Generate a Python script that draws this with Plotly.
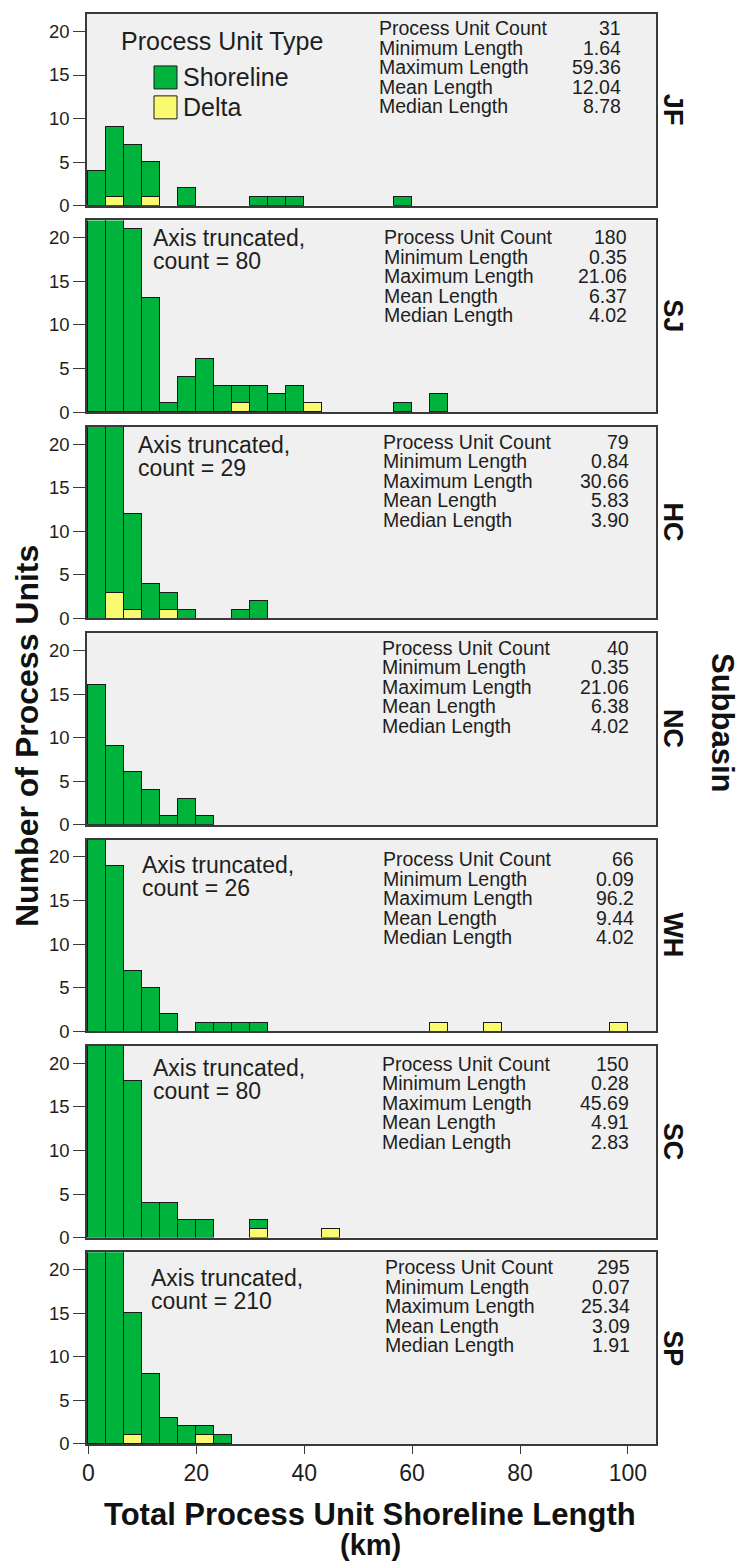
import plotly.graph_objects as go

# ---------------- data ----------------
bin_width_km = 10 / 3
n_bins = 30
subbasins = ["JF", "SJ", "HC", "NC", "WH", "SC", "SP"]

# total count per 3.33 km bin (bins starting at 0 km), delta count per bin
jf_total = [4, 9, 7, 5, 0, 2, 0, 0, 0, 1, 1, 1, 0, 0, 0, 0, 0, 1]
jf_delta = [0, 1, 0, 1]
sj_total = [37, 80, 21, 13, 1, 4, 6, 3, 3, 3, 2, 3, 1, 0, 0, 0, 0, 1, 0, 2]
sj_delta = [0, 0, 0, 0, 0, 0, 0, 0, 1, 0, 0, 0, 1]
hc_total = [29, 27, 12, 4, 3, 1, 0, 0, 1, 2]
hc_delta = [0, 3, 1, 0, 1]
nc_total = [16, 9, 6, 4, 1, 3, 1]
nc_delta = [0]
wh_total = [26, 19, 7, 5, 2, 0, 1, 1, 1, 1, 0, 0, 0, 0, 0, 0, 0, 0, 0, 1, 0, 0, 1, 0, 0, 0, 0, 0, 0, 1]
wh_delta = [0, 0, 0, 0, 0, 0, 0, 0, 0, 0, 0, 0, 0, 0, 0, 0, 0, 0, 0, 1, 0, 0, 1, 0, 0, 0, 0, 0, 0, 1]
sc_total = [80, 37, 18, 4, 4, 2, 2, 0, 0, 2, 0, 0, 0, 1]
sc_delta = [0, 0, 0, 0, 0, 0, 0, 0, 0, 1, 0, 0, 0, 1]
sp_total = [210, 54, 15, 8, 3, 2, 2, 1]
sp_delta = [0, 0, 1, 0, 0, 0, 1]

stat_labels = ["Process Unit Count", "Minimum Length", "Maximum Length", "Mean Length", "Median Length"]
jf_stats = ["31", "1.64", "59.36", "12.04", "8.78"]
sj_stats = ["180", "0.35", "21.06", "6.37", "4.02"]
hc_stats = ["79", "0.84", "30.66", "5.83", "3.90"]
nc_stats = ["40", "0.35", "21.06", "6.38", "4.02"]
wh_stats = ["66", "0.09", "96.2", "9.44", "4.02"]
sc_stats = ["150", "0.28", "45.69", "4.91", "2.83"]
sp_stats = ["295", "0.07", "25.34", "3.09", "1.91"]

truncated_counts = [None, 80, 29, None, 26, 80, 210]
x_ticks = [0, 20, 40, 60, 80, 100]
y_ticks = [0, 5, 10, 15, 20]

totals = [jf_total, sj_total, hc_total, nc_total, wh_total, sc_total, sp_total]
deltas = [jf_delta, sj_delta, hc_delta, nc_delta, wh_delta, sc_delta, sp_delta]
stats = [jf_stats, sj_stats, hc_stats, nc_stats, wh_stats, sc_stats, sp_stats]

# ---------------- layout geometry / style ----------------
W, H = 739, 1564
ML, MR, MT, MB = 87, 83, 12, 120
PW = W - ML - MR
PH = H - MT - MB
PANEL_H = 192
PITCH = (PH - PANEL_H) / 6

GREEN = "#00b33c"
YELLOW = "#fafa70"
EDGE = "#1a1a1a"
FRAME = "#3a3a3a"
TXT = "#1e1e1e"
FONT = "Liberation Sans, Arial, sans-serif"

# per-panel text placement (px): stats label x, stats value right x, first-line offset
stats_pos = [(377, 623, 14.5), (382, 629, 17), (381, 631, 15), (380, 631, 14.5),
             (381, 636, 20), (380, 631, 18), (383, 632, 15)]
trunc_pos = [None, (151, 18), (136, 18), None, (140, 26), (151, 22), (149, 26)]

def pad(a):
    return list(a) + [0] * (n_bins - len(a))

fig = go.Figure()
annotations = []
shapes = []

for i, name in enumerate(subbasins):
    top = MT + i * PITCH
    bottom = top + PANEL_H
    d0 = 1 - (bottom - MT) / PH
    d1 = 1 - (top - MT) / PH
    ax = "" if i == 0 else str(i + 1)

    tot = pad(totals[i])
    dl = pad(deltas[i])
    centers = [(b + 0.5) * bin_width_km for b in range(n_bins)]
    dx = [c for c, v in zip(centers, dl) if v > 0]
    dy = [v for v in dl if v > 0]
    sx = [c for c, t, v in zip(centers, tot, dl) if t - v > 0]
    sy = [t - v for t, v in zip(tot, dl) if t - v > 0]

    fig.add_trace(go.Bar(x=dx, y=dy, width=bin_width_km, name="Delta",
                         marker=dict(color=YELLOW, line=dict(color=EDGE, width=1)),
                         xaxis="x" + ax, yaxis="y" + ax, showlegend=False))
    fig.add_trace(go.Bar(x=sx, y=sy, width=bin_width_km, name="Shoreline",
                         marker=dict(color=GREEN, line=dict(color=EDGE, width=1)),
                         xaxis="x" + ax, yaxis="y" + ax, showlegend=False))

    xa = dict(domain=[0, 1], range=[-0.25, 105.2], anchor="y" + ax,
              showline=True, mirror=True, linecolor=FRAME, linewidth=1.5,
              showgrid=False, zeroline=False, ticks="", showticklabels=False,
              tickvals=x_ticks)
    if i == len(subbasins) - 1:
        xa.update(ticks="outside", ticklen=8, tickwidth=1.2, tickcolor=FRAME,
                  showticklabels=True, tickfont=dict(size=23, color=TXT, family=FONT))
    ya = dict(domain=[d0, d1], range=[0, 22], anchor="x" + ax,
              showline=True, mirror=True, linecolor=FRAME, linewidth=1.5,
              showgrid=False, zeroline=False, tickvals=y_ticks,
              ticks="outside", ticklen=12, tickwidth=1.2, tickcolor=FRAME,
              tickfont=dict(size=18.5, color=TXT, family=FONT))
    fig.update_layout({"xaxis" + ax: xa, "yaxis" + ax: ya})

    xr = "x" + ax + " domain"
    yr = "y" + ax + " domain"

    def xd(px):
        return (px - ML) / PW

    def yd(py):
        return (bottom - py) / PANEL_H

    # stats block
    lx, rx, off = stats_pos[i]
    for k, (lab, val) in enumerate(zip(stat_labels, stats[i])):
        yy = yd(top + off + k * 19.5)
        annotations.append(dict(text=lab, x=xd(lx), y=yy, xref=xr, yref=yr,
                                xanchor="left", yanchor="middle", showarrow=False,
                                font=dict(size=19.5, color=TXT, family=FONT)))
        annotations.append(dict(text=val, x=xd(rx), y=yy, xref=xr, yref=yr,
                                xanchor="right", yanchor="middle", showarrow=False,
                                font=dict(size=19.5, color=TXT, family=FONT)))

    # truncated note
    if truncated_counts[i] is not None:
        tx, toff = trunc_pos[i]
        for k, line in enumerate(["Axis truncated,", f"count = {truncated_counts[i]}"]):
            annotations.append(dict(text=line, x=xd(tx), y=yd(top + toff + k * 23),
                                    xref=xr, yref=yr, xanchor="left", yanchor="middle",
                                    showarrow=False,
                                    font=dict(size=23, color=TXT, family=FONT)))

    # panel label
    annotations.append(dict(text=f"<b>{name}</b>", x=(673 - ML) / PW, y=0.5,
                            xref="paper", yref=yr, xanchor="center", yanchor="middle",
                            textangle=90, showarrow=False,
                            font=dict(size=27, color="#111", family=FONT)))

    # legend in first panel
    if i == 0:
        annotations.append(dict(text="Process Unit Type", x=xd(119), y=yd(39),
                                xref=xr, yref=yr, xanchor="left", yanchor="middle",
                                showarrow=False, font=dict(size=25, color=TXT, family=FONT)))
        for (label, col, y0, y1) in [("Shoreline", GREEN, 64, 87), ("Delta", YELLOW, 94, 117)]:
            shapes.append(dict(type="rect", xref=xr, yref=yr,
                               x0=xd(154), x1=xd(177), y0=yd(y1), y1=yd(y0),
                               fillcolor=col, line=dict(color=EDGE, width=1)))
            annotations.append(dict(text=label, x=xd(181), y=yd((y0 + y1) / 2),
                                    xref=xr, yref=yr, xanchor="left", yanchor="middle",
                                    showarrow=False,
                                    font=dict(size=25, color=TXT, family=FONT)))

# global titles
annotations.append(dict(text="<b>Number of Process Units</b>", x=(27 - ML) / PW,
                        y=1 - (735 - MT) / PH, xref="paper", yref="paper",
                        xanchor="center", yanchor="middle", textangle=-90, showarrow=False,
                        font=dict(size=32, color="#111", family=FONT)))
annotations.append(dict(text="<b>Subbasin</b>", x=(723 - ML) / PW,
                        y=1 - (722 - MT) / PH, xref="paper", yref="paper",
                        xanchor="center", yanchor="middle", textangle=90, showarrow=False,
                        font=dict(size=31, color="#111", family=FONT)))
annotations.append(dict(text="<b>Total Process Unit Shoreline Length</b>", x=(370 - ML) / PW,
                        y=1 - (1515 - MT) / PH, xref="paper", yref="paper",
                        xanchor="center", yanchor="middle", showarrow=False,
                        font=dict(size=31, color="#111", family=FONT)))
annotations.append(dict(text="<b>(km)</b>", x=(370 - ML) / PW,
                        y=1 - (1545 - MT) / PH, xref="paper", yref="paper",
                        xanchor="center", yanchor="middle", showarrow=False,
                        font=dict(size=29, color="#111", family=FONT)))

fig.update_layout(
    width=W, height=H,
    margin=dict(l=ML, r=MR, t=MT, b=MB, pad=0),
    barmode="stack", bargap=0,
    plot_bgcolor="#f0f0f0", paper_bgcolor="white",
    showlegend=False,
    annotations=annotations, shapes=shapes,
    font=dict(family=FONT, color=TXT),
)

fig.write_html("out.html")
